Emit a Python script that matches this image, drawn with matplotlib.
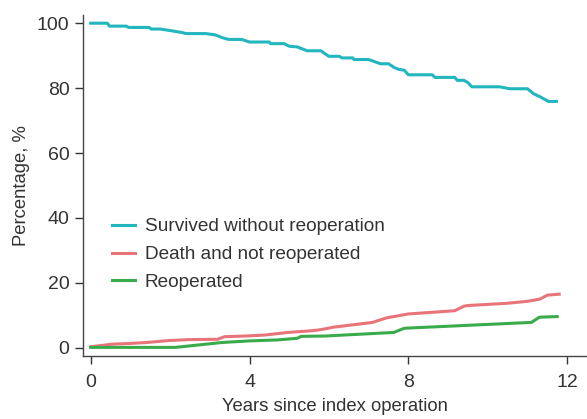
import numpy as np
import matplotlib.pyplot as plt

plt.rcParams['font.family'] = ['Liberation Sans', 'DejaVu Sans']

# years and percentages (corner points of the curves)
surv_t = [0, 0.42, 0.47, 0.9, 0.95, 1.47, 1.52, 1.75, 2.07, 2.31, 2.4, 2.9, 3.14, 3.3, 3.47,
          3.8, 4.0, 4.5, 4.53, 4.87, 5.0, 5.2, 5.45, 5.8, 5.9, 6.0, 6.26, 6.33, 6.6, 6.63,
          7.0, 7.3, 7.5, 7.65, 7.75, 7.9, 8.0, 8.6, 8.67, 9.17, 9.23, 9.4, 9.5, 9.6, 10.3,
          10.55, 11.0, 11.15, 11.32, 11.53, 11.73]
surv_v = [100, 100, 99.1, 99.1, 98.7, 98.7, 98.2, 98.2, 97.6, 97.1, 96.8, 96.8, 96.4, 95.6,
          95.0, 95.0, 94.2, 94.2, 93.7, 93.7, 92.9, 92.7, 91.5, 91.5, 90.6, 89.8, 89.8, 89.3,
          89.3, 88.8, 88.8, 87.5, 87.5, 86.3, 85.8, 85.5, 84.1, 84.1, 83.3, 83.3, 82.4, 82.4,
          81.7, 80.4, 80.4, 79.8, 79.8, 78.3, 77.3, 75.9, 75.9]

death_t = [0, 0.55, 0.97, 1.4, 1.96, 2.47, 3.2, 3.37, 3.9, 4.38, 4.96, 5.54, 5.7, 5.95, 6.1,
           7.1, 7.45, 8.0, 9.17, 9.4, 9.5, 10.5, 11.0, 11.32, 11.5, 11.8]
death_v = [0.3, 1.1, 1.3, 1.6, 2.2, 2.5, 2.6, 3.4, 3.6, 3.9, 4.7, 5.2, 5.4, 5.9, 6.3,
           7.8, 9.2, 10.4, 11.4, 12.8, 13.0, 13.7, 14.3, 15.0, 16.2, 16.5]

reop_t = [0, 2.13, 2.6, 3.3, 4.0, 4.7, 5.2, 5.3, 5.9, 7.63, 7.9, 11.1, 11.3, 11.75]
reop_v = [0.1, 0.1, 0.7, 1.6, 2.1, 2.4, 2.9, 3.5, 3.6, 4.7, 6.0, 7.8, 9.4, 9.6]

labels = ['Survived without reoperation', 'Death and not reoperated', 'Reoperated']
colors = ['#22b6bf', '#e8747a', '#3aab4b']

fig = plt.figure(figsize=(5.87, 4.19), dpi=100)
ax = fig.add_axes([0.141, 0.150, 0.859, 0.814])

ax.plot(surv_t, surv_v, color=colors[0], lw=2.2, label=labels[0])
ax.plot(death_t, death_v, color=colors[1], lw=2.2, label=labels[1])
ax.plot(reop_t, reop_v, color=colors[2], lw=2.2, label=labels[2])

ax.set_xlim(-0.2, 12.5)
ax.set_ylim(-2.6, 102.5)
ax.set_xticks([0, 4, 8, 12])
ax.set_yticks([0, 20, 40, 60, 80, 100])
ax.spines['top'].set_visible(False)
ax.spines['right'].set_visible(False)
for s in ['left', 'bottom']:
    ax.spines[s].set_color('#444444')
    ax.spines[s].set_linewidth(1.0)
ax.tick_params(labelsize=14, colors='#333333', length=6, width=1.0)
ax.tick_params(axis='x', pad=7)

ax.set_xlabel('Years since index operation', fontsize=13.3, color='#333333', labelpad=5)
ax.set_ylabel('Percentage, %', fontsize=13.3, color='#333333', labelpad=5)

ax.legend(loc='center left', bbox_to_anchor=(0.025, 0.298), frameon=False, fontsize=13.7,
          handlelength=1.2, handletextpad=0.5, labelspacing=0.55, labelcolor='#333333')

fig.savefig('out.png', dpi=100)
